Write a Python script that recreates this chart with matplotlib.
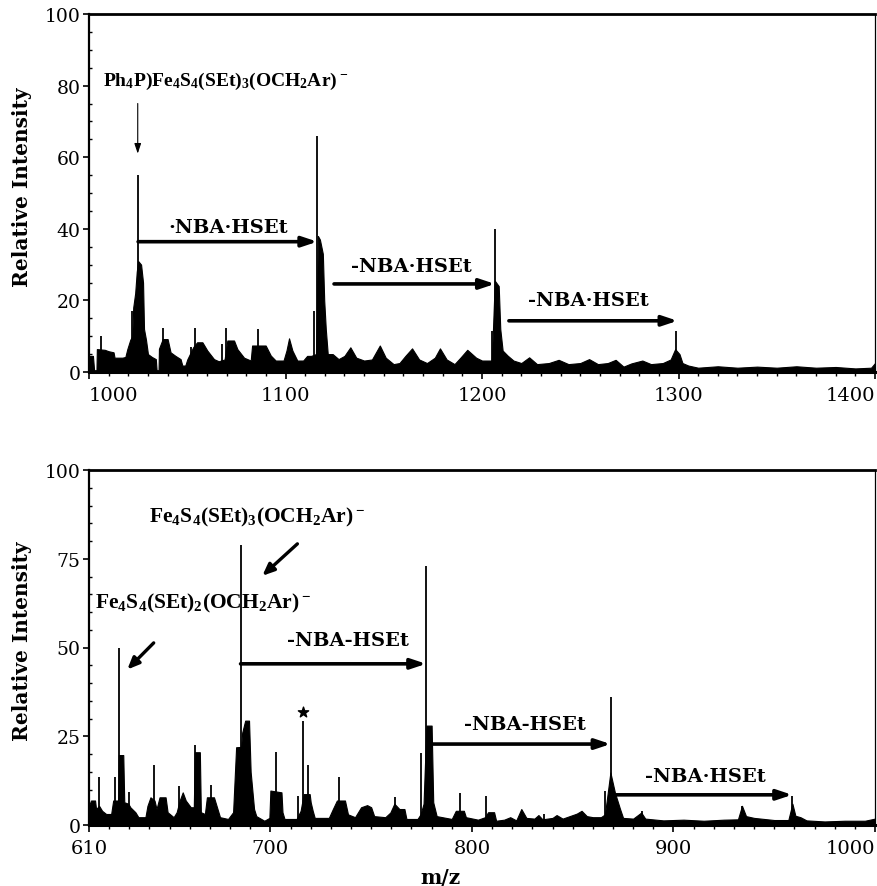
import numpy as np
import matplotlib
matplotlib.use('Agg')
import matplotlib.pyplot as plt

# --> fonts
plt.rcParams['font.family'] = 'DejaVu Serif'
plt.rcParams['mathtext.fontset'] = 'custom'
plt.rcParams['mathtext.rm'] = 'Liberation Serif'
plt.rcParams['mathtext.bf'] = 'Liberation Serif:bold'
plt.rcParams['mathtext.default'] = 'bf'

# ---------------- data: top spectrum (m/z 1000-1400) ----------------
top_env_mz = [1000, 1002, 1002.6, 1003.8, 1004, 1008, 1010, 1012.5, 1013, 1017, 1018.5, 1019.5,
              1021, 1022, 1022.5, 1023.5, 1024.3, 1025, 1026.5, 1027.5, 1028, 1029, 1030, 1032,
              1034, 1034.4, 1035.4, 1035.6, 1037.5, 1040, 1041.5, 1044, 1046.6, 1047.5, 1049,
              1050, 1053, 1055, 1057.7, 1060.2, 1063.6, 1066, 1069, 1070.4, 1073.8, 1075.5,
              1078.9, 1082.3, 1083, 1089.9, 1092.5, 1095, 1099, 1100.5, 1101.8, 1103.5, 1106,
              1109, 1111, 1113, 1115.5, 1116, 1116.5, 1117.5, 1119, 1119.7, 1120.5, 1121.5,
              1124, 1127, 1130, 1133, 1136, 1140, 1144, 1148, 1151, 1155, 1158, 1161, 1164.4,
              1168, 1172, 1176, 1178.6, 1182, 1186, 1189, 1192.5, 1197, 1200, 1205, 1206.5,
              1208.5, 1209.3, 1210.5, 1213, 1216, 1220, 1224, 1228, 1234, 1239, 1244, 1250,
              1254.5, 1259, 1264, 1268, 1272, 1276, 1281.6, 1286, 1292, 1296, 1298.3, 1300.5,
              1302, 1305, 1310, 1320, 1330, 1340, 1350, 1360, 1370, 1380, 1390, 1398, 1400]
top_env_int = [4.5, 4.5, 0.5, 0.5, 6.4, 6.2, 5.8, 5.5, 4, 4, 4.2, 6.4,
               9, 10, 18, 22, 28, 31, 30, 25, 12, 9, 5, 4.2,
               3.6, 0.5, 0.5, 6.5, 9.2, 9.2, 5.5, 4.5, 3.6, 1.8, 1.8,
               3.5, 6.9, 8.3, 8.3, 6, 3.6, 3, 3.5, 8.8, 8.8, 6.4,
               4, 3.2, 7.4, 7.4, 4.6, 3.2, 3.2, 6, 9.4, 6, 3.2,
               3.2, 4.5, 4.5, 5, 18, 38, 37, 33, 20, 12, 5,
               5, 3.6, 4.5, 6.9, 4, 3.2, 3.5, 7.4, 4, 2.2, 2.5, 4.5, 6.6,
               3.5, 2.5, 4, 6.6, 3.5, 2.2, 4, 6.2, 4, 3.2, 3.2, 25.5,
               24, 12, 6, 4.6, 3.2, 2.5, 4.1, 2.2, 2.5, 3.4, 2.2, 2.5,
               3.6, 2.2, 2.5, 3.4, 1.5, 2.4, 3.2, 2.2, 2.5, 3.5, 6.4, 5,
               2.5, 1.8, 1.2, 1.6, 1.2, 1.5, 1.2, 1.6, 1.2, 1.4, 1.0, 1.2, 2.5]
top_spike_mz = [1006.3, 1022, 1024.8, 1037.7, 1052, 1054, 1067.8, 1069.6, 1086, 1114.5, 1116.2, 1205.3, 1206.6, 1298.6]
top_spike_int = [10, 17, 55, 12.2, 6.9, 12.2, 7.8, 12.2, 12, 17, 66, 11.5, 40, 11.5]

# ---------------- data: bottom spectrum (m/z 610-1000) ----------------
bot_env_mz = [610, 611, 613, 613.5, 615, 616.5, 618.5, 621, 622, 624.5, 624.8, 627, 627.5, 629.5,
              630.5, 633, 634.5, 638, 639, 640.5, 642.5, 643.5, 645, 648, 649, 652, 653.5, 655,
              656.5, 658, 660.5, 662, 662.5, 665, 665.5, 667.5, 668.5, 672, 673.5, 675, 679,
              681.5, 683, 685.5, 686, 687.5, 689.4, 690.2, 691.9, 693, 697, 699.5, 700, 705.5,
              706, 707, 713, 715, 716.5, 719.5, 720, 721, 722, 729, 731, 733, 737, 738.5, 742,
              745, 748, 750, 751.5, 757, 759.5, 761.5, 764, 766.5, 767.5, 773, 774.5, 776, 777.4,
              780, 780.8, 782.5, 790, 792, 796, 797, 803, 806.5, 808, 811, 812, 816, 819, 822,
              824.5, 827, 831, 833, 835, 840, 842, 845, 852, 854.4, 857, 860, 864, 866, 868.7,
              871, 873.5, 875, 880, 884, 886, 895, 905, 915, 925, 932, 934, 936, 940, 950, 957,
              959, 960.5, 963, 966, 975, 985, 995, 1000]
bot_env_int = [5.4, 6.9, 6.9, 4.5, 5.4, 4, 3.1, 3.1, 6.9, 6.9, 19.7, 19.7, 6.4, 6,
               5, 3.6, 2.2, 2.2, 5.4, 7.8, 6.9, 4.5, 7.8, 7.8, 3.6, 2.2, 3.6, 6.9,
               9.2, 6.9, 5, 5, 20.5, 20.5, 3.6, 3.1, 7.8, 7.8, 5, 2.2, 1.7,
               3.6, 21.9, 22, 26, 29.4, 29.4, 15, 4.5, 2.5, 1.2, 2, 9.7, 9.2,
               3.6, 1.7, 1.7, 4, 8.7, 8.7, 6.4, 4, 2, 2, 4.5, 6.9, 6.9, 3, 2.2,
               5, 5.6, 5, 2.5, 2.2, 3.5, 6, 4.5, 4.5, 1.7, 1.7, 3, 6, 28,
               28, 6.4, 2.5, 1.7, 4, 4, 2.2, 1.5, 2.2, 3.6, 3.6, 1.2, 1.5, 2.2, 1.3,
               4.5, 2, 1.8, 2.8, 1.6, 2, 2.8, 1.8, 3.2, 4, 2.5, 2.2, 2.2, 3, 14.8,
               9, 4.5, 2, 1.8, 3.5, 1.8, 1.3, 1.5, 1.2, 1.5, 1.6, 5.4, 2.5, 2, 1.4, 1.4,
               6, 2.6, 2.2, 1.3, 1, 1.2, 1.2, 1.8]
bot_spike_mz = [614.8, 622.7, 624.7, 629.7, 642.1, 654.6, 662.8, 670.3, 685.2, 702.6, 713.8, 716.4,
                718.7, 734.2, 761.8, 774.8, 777.3, 793.9, 807.1, 836, 866.0, 868.8, 884.2, 934, 958.9]
bot_spike_int = [13.4, 13.5, 50, 9.4, 16.9, 11, 22.5, 11.3, 79, 20.5, 8.3, 29.4,
                 16.9, 13.4, 7.8, 20.3, 73, 9, 8.3, 3.1, 9.7, 36, 4, 5.4, 8.3]
star_mz, star_int = 716.4, 31.8

# annotations: (start m/z, end m/z, level) and label text
top_losses = [(1025, 1116.2, 36.4), (1124.7, 1206.6, 24.6), (1213.7, 1299.5, 14.3)]
top_loss_text = [(1071, 40.5, '·NBA·HSEt'), (1164, 29.6, '-NBA·HSEt'), (1254, 20, '-NBA·HSEt')]
bot_losses = [(685.2, 777.3, 45.4), (779.8, 868.8, 22.8), (871, 958.9, 8.5)]
bot_loss_text = [(738.3, 52, '-NBA-HSEt'), (826.2, 28.5, '-NBA-HSEt'), (915.8, 13.9, '-NBA·HSEt')]

W, H = 877, 887
fig = plt.figure(figsize=(W / 100, H / 100), dpi=100)
ax1 = fig.add_axes([89 / W, 1 - 373 / H, 786 / W, 358 / H])
ax2 = fig.add_axes([89 / W, 1 - 826 / H, 786 / W, 355 / H])


def draw_spectrum(ax, env_mz, env_int, sp_mz, sp_int):
    ax.fill_between(env_mz, 0, env_int, color='black', lw=0.8)
    ax.vlines(sp_mz, 0, sp_int, color='black', lw=1.3)


def loss_arrows(ax, losses, texts):
    for x0, x1, y in losses:
        ax.annotate('', xy=(x1, y), xytext=(x0, y),
                    arrowprops=dict(arrowstyle='-|>,head_length=0.9,head_width=0.3',
                                    lw=2.6, color='black', shrinkA=0, shrinkB=0))
    for x, y, t in texts:
        ax.text(x, y, t, ha='center', va='center', fontsize=14, fontweight='bold')


def style_axes(ax, xmin, xmax, major, yticks):
    ax.set_xlim(xmin, xmax)
    ax.set_ylim(0, 100)
    ax.set_xticks(major)
    ax.set_xticks(np.arange(xmin, xmax + 1, 10), minor=True)
    ax.set_yticks(yticks)
    ax.set_yticks(np.arange(0, 101, 5), minor=True)
    ax.tick_params(axis='x', which='major', direction='out', length=5, width=1.2, labelsize=14, pad=5)
    ax.tick_params(axis='x', which='minor', direction='out', length=3, width=1)
    ax.tick_params(axis='y', which='major', direction='out', length=4, width=1.2, labelsize=13.5, pad=2)
    ax.tick_params(axis='y', which='minor', direction='in', length=2, width=1)
    ax.spines['top'].set_linewidth(2)
    ax.spines['bottom'].set_linewidth(2.2)
    ax.spines['left'].set_linewidth(1.6)
    ax.spines['right'].set_linewidth(0.9)
    # end labels pulled inside the frame, like the printed figure
    lbls = ax.get_xticklabels()
    lbls[-1].set_horizontalalignment('right')
    ax.set_ylabel('Relative Intensity', fontsize=14.5, fontweight='bold')
    ax.yaxis.set_label_coords(-0.072, 0.52)


# top panel
draw_spectrum(ax1, top_env_mz, top_env_int, top_spike_mz, top_spike_int)
style_axes(ax1, 1000, 1400, [1000, 1100, 1200, 1300, 1400], [0, 20, 40, 60, 80, 100])
ax1.get_xticklabels()[0].set_horizontalalignment('left')
loss_arrows(ax1, top_losses, top_loss_text)
ax1.text(1007, 81.5, r'Ph$_4$P)Fe$_4$S$_4$(SEt)$_3$(OCH$_2$Ar)$^-$', ha='left', va='center',
         fontsize=14, fontweight='bold', family='Liberation Serif')
ax1.annotate('', xy=(top_spike_mz[2], 61), xytext=(top_spike_mz[2], 75),
             arrowprops=dict(arrowstyle='-|>,head_length=0.6,head_width=0.2', lw=0.8,
                             color='black', shrinkA=0, shrinkB=0))

# bottom panel
draw_spectrum(ax2, bot_env_mz, bot_env_int, bot_spike_mz, bot_spike_int)
style_axes(ax2, 610, 1000, [610, 700, 800, 900, 1000], [0, 25, 50, 75, 100])
loss_arrows(ax2, bot_losses, bot_loss_text)
ax2.text(639.7, 86.8, r'Fe$_4$S$_4$(SEt)$_3$(OCH$_2$Ar)$^-$', ha='left', va='center',
         fontsize=15.5, fontweight='bold', family='Liberation Serif')
ax2.text(612.9, 62.8, r'Fe$_4$S$_4$(SEt)$_2$(OCH$_2$Ar)$^-$', ha='left', va='center',
         fontsize=15.5, fontweight='bold', family='Liberation Serif')
ax2.annotate('', xy=(696, 70.2), xytext=(713.4, 79.2),
             arrowprops=dict(arrowstyle='-|>,head_length=0.7,head_width=0.3', lw=2.4,
                             color='black', shrinkA=0, shrinkB=0))
ax2.annotate('', xy=(629, 43.8), xytext=(642.1, 51.3),
             arrowprops=dict(arrowstyle='-|>,head_length=0.7,head_width=0.3', lw=2.4,
                             color='black', shrinkA=0, shrinkB=0))
ax2.scatter([star_mz], [star_int], marker='*', s=60, color='black', zorder=3)
ax2.set_xlabel('m/z', fontsize=14.5, fontweight='bold')
ax2.xaxis.set_label_coords(0.447, -0.118)

fig.savefig('out.png', dpi=100)
